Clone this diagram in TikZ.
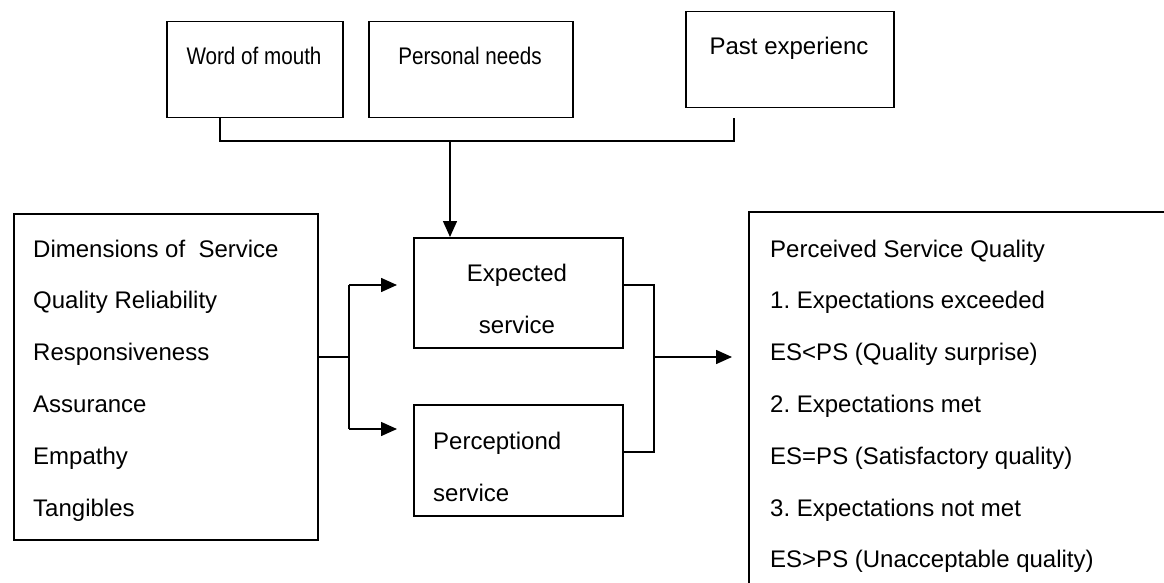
\documentclass[tikz,border=0pt]{standalone}
\usepackage{fontspec}
\setmainfont{Liberation Sans}
\newfontfamily\narrowsans[FakeStretch=0.86]{Liberation Sans}
\frenchspacing
\usetikzlibrary{arrows.meta}
\begin{document}
\begin{tikzpicture}[x=1pt,y=-1pt,
  box/.style={draw, line width=1.5pt, inner sep=0pt, anchor=north west},
  lbl/.style={inner sep=0pt, font=\fontsize{24}{30}\selectfont},
  nlbl/.style={lbl, font=\fontsize{24}{30}\narrowsans},
  wire/.style={line width=1.5pt},
  arr/.style={wire, -{Triangle[length=16pt,width=14pt]}}]
\useasboundingbox (0,0) rectangle (1164,583);

% influence boxes on top
\node[box, minimum width=176pt, minimum height=96pt] (wom) at (166,21) {};
\node[box, minimum width=204pt, minimum height=96pt] (pn) at (368,21) {};
\node[box, minimum width=208pt, minimum height=96pt] (pe) at (685,11) {};
\node[nlbl, anchor=base] (womt) at (254,65) {Word of mouth};
\node[nlbl, anchor=base] (pnt) at (470,65) {Personal needs};
\node[lbl, anchor=base] (pet) at (789,55) {Past experienc};

% dimensions box
\node[box, minimum width=304pt, minimum height=326pt] (dims) at (13,213) {};
\foreach \t [count=\i from 0] in {Dimensions of\ \ Service, Quality Reliability,
    Responsiveness, Assurance, Empathy, Tangibles}
  \node[lbl, anchor=base west] (d\i) at (33,257+51.8*\i) {\t};

% expected / perceived service
\node[box, minimum width=209pt, minimum height=110pt] (exp) at (413,237) {};
\node[box, minimum width=209pt, minimum height=111pt] (perc) at (413,404) {};
\node[lbl, anchor=base] (expa) at (517,281) {Expected};
\node[lbl, anchor=base] (expb) at (517,333) {service};
\node[lbl, anchor=base west] (perca) at (433,449) {Perceptiond};
\node[lbl, anchor=base west] (percb) at (433,501) {service};

% perceived service quality panel (open to the right and below)
\coordinate (pq) at (749,212);
\draw[wire] (1170,212) -- (pq) -- (749,590);
\foreach \t [count=\i from 0] in {Perceived Service Quality, 1. Expectations exceeded,
    ES<PS (Quality surprise), 2. Expectations met, ES=PS (Satisfactory quality),
    3. Expectations not met, ES>PS (Unacceptable quality)}
  \node[lbl, anchor=base west] (q\i) at (770,257+51.8*\i) {\t};

% bracket joining the three influences
\coordinate (bl) at (220,141);
\coordinate (br) at (734,141);
\coordinate (bm) at (450,141);
\draw[wire] (wom.south -| bl) -- (bl) -- (br) -- (br |- wom.south);
\draw[arr] (bm) -- (bm |- exp.north);

% fork from the dimensions box
\coordinate (fk) at (349,357);
\coordinate (fa) at (349,285);
\coordinate (fb) at (349,429);
\draw[wire] (dims.east |- fk) -- (fk);
\draw[wire] (fa) -- (fb);
\draw[arr, shorten >=16pt] (fa) -- (fa -| exp.west);
\draw[arr, shorten >=16pt] (fb) -- (fb -| perc.west);

% join into perceived service quality
\coordinate (ja) at (654,285);
\coordinate (jb) at (654,452);
\coordinate (jm) at (654,357);
\draw[wire] (ja -| exp.east) -- (ja) -- (jb) -- (jb -| perc.east);
\draw[arr, shorten >=17pt] (jm) -- (jm -| pq);
\end{tikzpicture}
\end{document}
